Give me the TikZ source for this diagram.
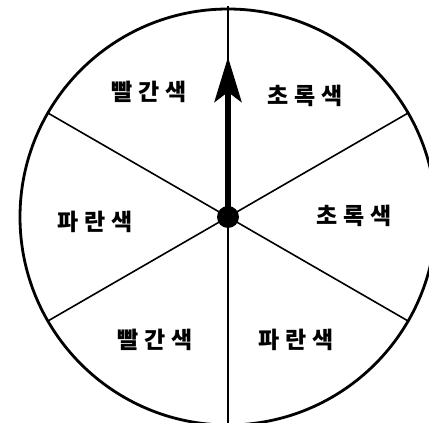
\documentclass[tikz,border=0pt]{standalone}
\usepackage{fontspec}
\newfontfamily\korfont{Noto Sans CJK KR}
\usetikzlibrary{arrows.meta}
\newcommand
    {\lsp}
    {%
        \hspace{6pt}%
    }

\begin{document}
\begin{tikzpicture}[x=1pt,y=-1pt,
        colour/.style={font=\korfont\bfseries\fontsize{23}{23}\selectfont,inner sep=0pt}]
        \useasboundingbox (0,0) rectangle (429,423);
        \clip (0,0) rectangle (429,423);

        % 1. Wheel rim and spokes
        \coordinate (c) at (228,217);
        \draw[line width=2.8pt] (c) circle [radius=208];
        \foreach \a in {30,150,210,330}
            \draw[line width=1.6pt] (c) -- ++(\a:208);
        \coordinate (top) at (228,6);
        \coordinate (bot) at (228,430);
        \draw[line width=1.4pt] (top) -- (bot);

        % 2. Pointer and hub
        \node (hub) at (c) [circle,fill,inner sep=0pt,minimum size=22pt] {};
        \coordinate (tip) at (228,57);
        \draw[line width=6pt,-{Stealth[length=45pt,width=27pt,inset=10pt]}] (hub.center) -- (tip);

        % 3. Sector labels, clockwise from the top
        \node (g1) at (305,96) [colour] {초\lsp 록\lsp 색};
        \node (g2) at (354,216) [colour] {초\lsp 록\lsp 색};
        \node (b1) at (296,340) [colour] {파\lsp 란\lsp 색};
        \node (r1) at (155,340) [colour] {빨\lsp 간\lsp 색};
        \node (b2) at (95,222) [colour] {파\lsp 란\lsp 색};
        \node (r2) at (149,92) [colour] {빨\lsp 간\lsp 색};
    \end{tikzpicture}
\end{document}
